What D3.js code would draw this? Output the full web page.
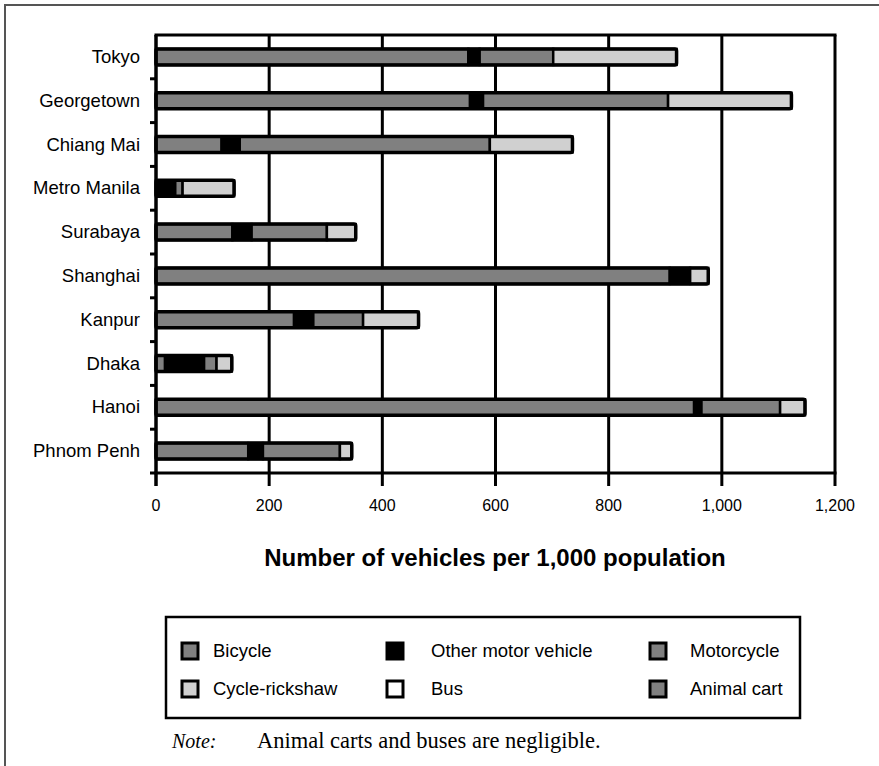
<!DOCTYPE html>
<html><head><meta charset="utf-8">
<script src="https://cdn.jsdelivr.net/npm/d3@7"></script>
<style>body{margin:0;background:#fff}svg{display:block}</style>
</head><body>
<svg id="c" width="879" height="766"></svg>
<script>
const cities = ["Tokyo","Georgetown","Chiang Mai","Metro Manila","Surabaya","Shanghai","Kanpur","Dhaka","Hanoi","Phnom Penh"];
const bicycle      = [552, 555, 116, 3, 135, 908, 244, 16, 951, 163];
const otherMotor   = [20, 23, 32, 31, 34, 36, 34, 69, 13, 26];
const motorcycle   = [130, 327, 442, 13, 133, 0, 88, 22, 139, 136];
const cycleRickshaw= [218, 218, 146, 91, 51, 32, 98, 27, 44, 21];
const seriesNames = ["Bicycle","Other motor vehicle","Motorcycle","Cycle-rickshaw","Bus","Animal cart"];
const seriesFill  = ["#808080","#000000","#808080","#d0d0d0","#ffffff","#808080"];
const xTicks = [0,200,400,600,800,1000,1200];

const svg = d3.select("#c");
const font = "'Liberation Sans', Arial, sans-serif";

// outer frame
svg.append("path").attr("d","M5,766 L5,5 L879,5").attr("fill","none").attr("stroke","#555").attr("stroke-width",2);

const x = d3.scaleLinear().domain([0,1200]).range([156,835]);
const y = d3.scaleBand().domain(cities).range([35,473]);
const barH = 16;

// gridlines (extend below axis as ticks)
svg.append("g").selectAll("line").data(xTicks).join("line")
  .attr("x1",d=>x(d)).attr("x2",d=>x(d)).attr("y1",35).attr("y2",486)
  .attr("stroke","#000").attr("stroke-width",3);
svg.append("line").attr("x1",x(0)-1.5).attr("x2",x(1200)+1.5).attr("y1",35).attr("y2",35).attr("stroke","#000").attr("stroke-width",3);
svg.append("line").attr("x1",x(0)-1.5).attr("x2",x(1200)+1.5).attr("y1",473).attr("y2",473).attr("stroke","#000").attr("stroke-width",3);
const bounds = cities.map(c=>y(c)).concat([473]).slice(1);
svg.append("g").selectAll("line").data(bounds).join("line")
  .attr("x1",150).attr("x2",156).attr("y1",d=>d).attr("y2",d=>d)
  .attr("stroke","#000").attr("stroke-width",3);

// x tick labels
svg.append("g").selectAll("text").data(xTicks).join("text")
  .attr("x",d=>x(d)).attr("y",511).attr("text-anchor","middle")
  .attr("font-family",font).attr("font-size",16).text(d=>d3.format(",")(d));

// category labels
svg.append("g").selectAll("text").data(cities).join("text")
  .attr("x",140).attr("y",d=>y(d)+y.bandwidth()/2+6).attr("text-anchor","end")
  .attr("font-family",font).attr("font-size",18.5).text(d=>d);

// bars
const stackData = cities.map((c,i)=>({city:c, vals:[bicycle[i],otherMotor[i],motorcycle[i],cycleRickshaw[i]]}));
const gBars = svg.append("g");
stackData.forEach(d=>{
  let acc=0;
  const cy = y(d.city)+y.bandwidth()/2;
  const g = gBars.append("g");
  d.vals.forEach((v,k)=>{
    g.append("rect").attr("x",x(acc)).attr("y",cy-barH/2).attr("width",x(acc+v)-x(acc)).attr("height",barH)
      .attr("fill",seriesFill[k]).attr("stroke","#000").attr("stroke-width",2.5);
    acc+=v;
  });
  g.append("rect").attr("x",x(0)).attr("y",cy-barH/2).attr("width",x(acc)-x(0)).attr("height",barH)
    .attr("rx",2).attr("fill","none").attr("stroke","#000").attr("stroke-width",3.5);
});
svg.append("line").attr("x1",x(0)).attr("x2",x(0)).attr("y1",35).attr("y2",486).attr("stroke","#000").attr("stroke-width",3);

// axis title
svg.append("text").attr("x",495).attr("y",566).attr("text-anchor","middle")
  .attr("font-family",font).attr("font-size",24).attr("font-weight","bold")
  .text("Number of vehicles per 1,000 population");

// legend
svg.append("rect").attr("x",166).attr("y",617).attr("width",634).attr("height",101)
  .attr("fill","none").attr("stroke","#000").attr("stroke-width",2.5);
const legCols = [182,387,650];
const legTextX = [213,431,690];
const legRows = [651,689];
seriesNames.forEach((n,i)=>{
  const col=i%3,row=Math.floor(i/3);
  const cy=legRows[row];
  svg.append("rect").attr("x",legCols[col]).attr("y",cy-8).attr("width",16).attr("height",16)
    .attr("fill",seriesFill[i]).attr("stroke","#000").attr("stroke-width",3);
  svg.append("text").attr("x",legTextX[col]).attr("y",cy+6).attr("font-family",font).attr("font-size",18.5).text(n);
});

// note
const serif = "'Liberation Serif','Times New Roman',serif";
svg.append("text").attr("x",172).attr("y",748).attr("font-family",serif).attr("font-size",20).attr("font-style","italic").text("Note:");
svg.append("text").attr("x",257).attr("y",748).attr("font-family",serif).attr("font-size",22.5).text("Animal carts and buses are negligible.");
</script>
</body></html>
